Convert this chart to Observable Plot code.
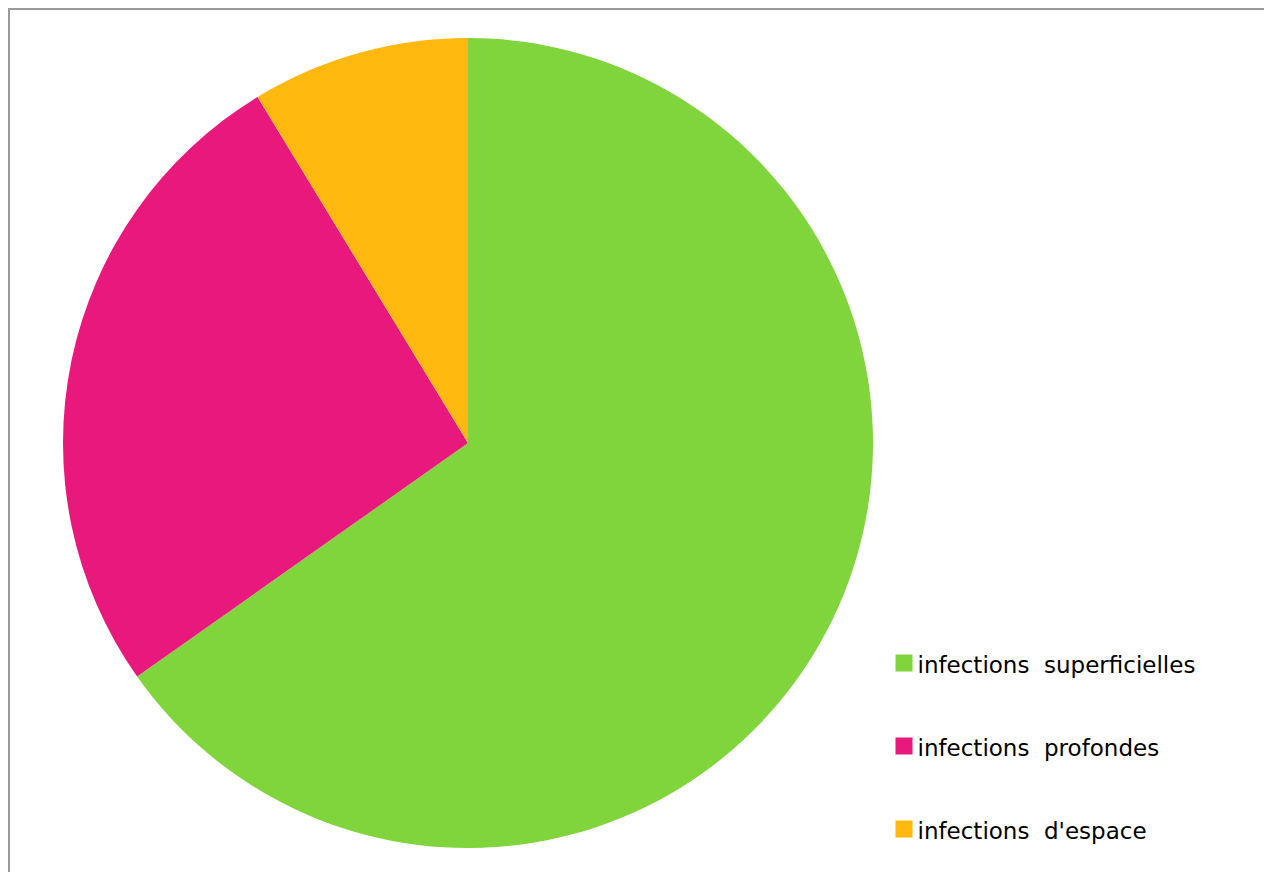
<!DOCTYPE html>
<html>
<head>
<meta charset="utf-8">
<script src="https://cdn.jsdelivr.net/npm/d3@7"></script>
<script src="https://cdn.jsdelivr.net/npm/@observablehq/plot@0.6"></script>
<style>
  html, body { margin: 0; padding: 0; background: #fff; }
  #chart { width: 1264px; height: 872px; overflow: hidden; }
</style>
</head>
<body>
<div id="chart"></div>
<script>
const categories = ["infections  superficielles", "infections  profondes", "infections  d'espace"];
const values = [15, 6, 2];
const colors = ["#80d43c", "#e8187c", "#ffb80e"];

const data = categories.map((c, i) => ({category: c, value: values[i]}));

function pieMark(rows, {cx, cy, r}) {
  return (index, scales) => {
    const arcs = d3.pie().sort(null).value(d => d.value)(rows);
    const arc = d3.arc().innerRadius(0).outerRadius(r);
    const g = d3.create("svg:g").attr("transform", `translate(${scales.x(cx)},${scales.y(cy)})`);
    g.selectAll("path").data(arcs).join("path")
      .attr("d", arc)
      .attr("fill", d => scales.color(d.data.category));
    return g.node();
  };
}

const chart = Plot.plot({
  width: 1264,
  height: 872,
  margin: 0,
  style: {fontFamily: "DejaVu Sans", background: "#fff", overflow: "hidden"},
  x: {type: "linear", domain: [0, 1264], range: [0, 1264], axis: null},
  y: {type: "linear", domain: [0, 872], range: [0, 872], axis: null},
  color: {domain: categories, range: colors},
  marks: [
    Plot.rect([0], {x1: 9, y1: 9, x2: 1300, y2: 900, fill: "none", stroke: "#9a9a9a", strokeWidth: 2}),
    pieMark(data, {cx: 468, cy: 443, r: 405}),
    Plot.dot(data, {
      x: () => 903.5,
      y: (d, i) => 662.5 + i * 83,
      fill: "category",
      symbol: "square",
      r: 9.6,
      stroke: "none"
    }),
    Plot.text(data, {
      x: () => 917,
      y: (d, i) => 662.5 + i * 83,
      text: "category",
      textAnchor: "start",
      fontSize: 23,
      dy: 3,
      fill: "#000",
      style: "white-space: pre"
    })
  ]
});
document.getElementById("chart").appendChild(chart);
</script>
</body>
</html>
